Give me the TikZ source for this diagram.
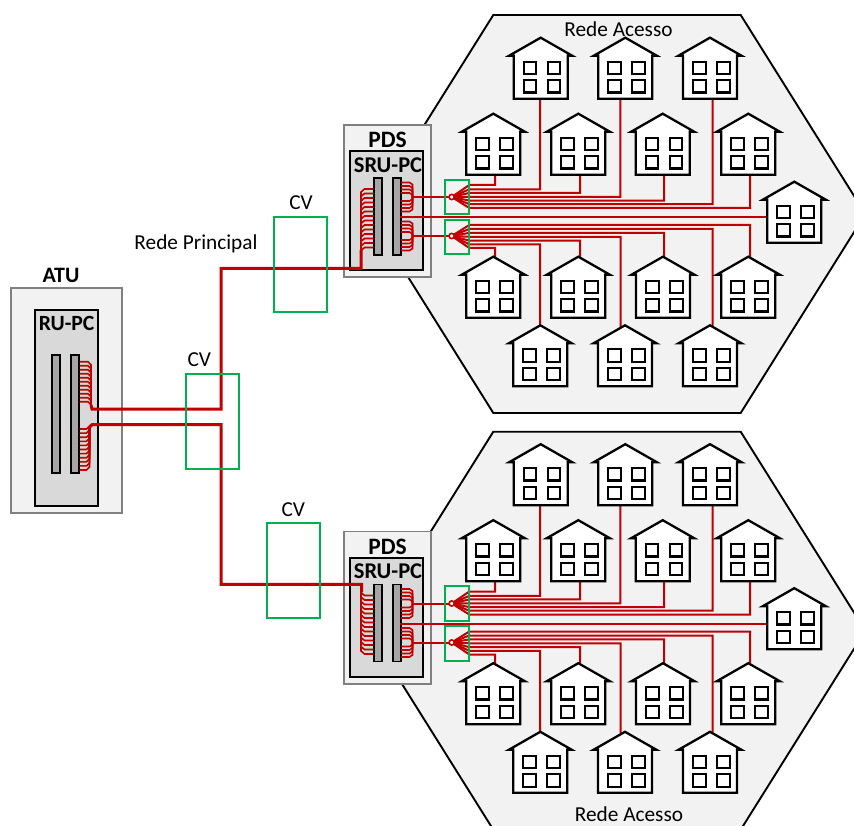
\documentclass[tikz,border=0pt]{standalone}
\usepackage{fontspec}
\setmainfont{Carlito}
\usetikzlibrary{calc}
\definecolor{wirered}{HTML}{C00000}
\definecolor{boxgreen}{HTML}{00B050}
\definecolor{areagray}{HTML}{F2F2F2}
\definecolor{cardgray}{HTML}{D9D9D9}
\definecolor{slotgray}{HTML}{A6A6A6}
\tikzset{
  area/.style={draw=black,fill=areagray,line width=1.9pt,line join=miter},
  panel/.style={draw=black!50,fill=areagray,line width=1.8pt,inner sep=0pt},
  card/.style={draw=black,fill=cardgray,line width=2pt,inner sep=0pt},
  slot/.style={draw=black,fill=slotgray,line width=1.9pt,inner sep=0pt,minimum width=8pt},
  cvbox/.style={draw=boxgreen,line width=1.9pt,inner sep=0pt},
  wire/.style={draw=wirered,line width=2pt},
  thin wire/.style={draw=wirered,line width=1.6pt},
  main wire/.style={draw=wirered,line width=3pt},
  lbl/.style={inner sep=0pt,font=\fontsize{21.3}{24}\selectfont},
  blbl/.style={inner sep=0pt,font=\fontsize{23.5}{24}\selectfont\bfseries},
  pics/house/.style={code={
    \draw[fill=white,line width=2.3pt,line join=miter] (0,0) -- (31.5,18) -- (27,18) -- (27,61) -- (-27,61) -- (-27,18) -- (-31.5,18) -- cycle;
    \foreach \wx in {-17,7} \foreach \wy in {24,42.5}
      \draw[fill=white,line width=2.2pt] (\wx,\wy) rectangle (\wx+12.6,\wy+12.3);
  }}
}

\begin{document}
\begin{tikzpicture}[x=1pt,y=-1pt]
  \useasboundingbox (0,0) rectangle (854,826);
  \clip (0,0) rectangle (854,826);
  \draw[area] (493.3,15) -- (740.7,15) -- (865.4,214) -- (740.7,413) -- (493.3,413) -- (368.6,214) -- cycle;
  \draw[area] (493.3,431.7) -- (740.7,431.7) -- (865.4,630.7) -- (740.7,829.7) -- (493.3,829.7) -- (368.6,630.7) -- cycle;
  \node[lbl] (accessa) at (618.5,29) {Rede Acesso};
  \node[lbl] (accessb) at (629,814) {Rede Acesso};

  \node[panel,minimum width=111.3pt,minimum height=225pt] (atu) at (66.7,400.8) {};
  \node[blbl,font=\fontsize{22}{24}\selectfont\bfseries] (atutxt) at (61,275) {ATU};
  \node[card,minimum width=62.7pt,minimum height=196pt] (ru) at (66.4,408) {};
  \node[blbl,font=\fontsize{21.7}{24}\selectfont\bfseries] (rutxt) at (66.7,323) {RU-PC};
  \node[slot,minimum height=118.3pt] (rua) at (56.2,414.2) {};
  \node[slot,minimum height=118.3pt] (rub) at (75.2,414.2) {};

  \foreach \p/\dy in {a/0,b/406.5} {
    \begin{scope}[shift={(0,\dy)}]
      \node[panel,minimum width=86.7pt,minimum height=152.3pt] (pds\p) at (387.7,201.2) {};
      \node[blbl] (pdstxt\p) at (387.5,140) {PDS};
      \node[card,minimum width=73.3pt,minimum height=119pt] (sru\p) at (386.7,210.5) {};
      \node[blbl,font=\fontsize{22.5}{24}\selectfont\bfseries] (srutxt\p) at (388,165) {SRU-PC};
      \node[slot,minimum height=77pt] (srua\p) at (378.3,216.5) {};
      \node[slot,minimum height=77pt] (srub\p) at (397.2,216.5) {};
      \coordinate (fana\p) at (451.7,197);
      \coordinate (fanb\p) at (451.7,236);
      \coordinate (tapa\p) at (400,217.3);
      \coordinate (tapb\p) at (767.3,217.3);

      \foreach \o in {-14.5,-11,-7.5,-4} {
        \draw[thin wire] (401,197+\o) -- (409.5,197+\o) -- (412.5,197+\o+2) -- (412.5,197);
        \draw[thin wire] (401,197-\o) -- (409.5,197-\o) -- (412.5,197-\o-2) -- (412.5,197);
        \draw[thin wire] (401,236+\o) -- (409.5,236+\o) -- (412.5,236+\o+2) -- (412.5,236);
        \draw[thin wire] (401,236-\o) -- (409.5,236-\o) -- (412.5,236-\o-2) -- (412.5,236);
      }
      \draw[wire] (412.5,197) -- (fana\p);
      \draw[wire] (412.5,236) -- (fanb\p);
      \draw[wire] (tapa\p) -- (tapb\p);
      \foreach \yy/\xx/\ey in {185/495/175,189.3/540/99,192.9/580/175,196.8/620.3/99,200.6/664/175,204.2/712.7/99,208/750/175} {
        \coordinate (dropa) at (\xx,\ey);
        \draw[wire] (fana\p) -- (469.3,\yy) -| (dropa);
      }
      \foreach \yy/\xx/\ey in {225/750/259,229/712.7/327,232.9/664/259,236.8/620.5/327,240.7/580/259,244.3/540/327,248/495/259} {
        \coordinate (dropb) at (\xx,\ey);
        \draw[wire] (fanb\p) -- (469.3,\yy) -| (dropb);
      }

      \foreach \hx/\hy in {540.7/37.7,625.3/37.7,710/37.7,493.3/113.7,578.3/113.7,662.7/113.7,748.3/113.7,794.3/181.7,493.3/256.7,578.3/256.7,663/256.7,748.3/256.7,540.3/325.3,625/325.3,710/325.3}
        \pic at (\hx,\hy) {house};

      \node[cvbox,minimum width=24.3pt,minimum height=34.3pt] (spa\p) at (457.2,196.9) {};
      \node[cvbox,minimum width=24.3pt,minimum height=34.3pt] (spb\p) at (457.2,236.9) {};
      \fill[white,draw=wirered,line width=1.6pt] (fana\p) circle (2.6pt);
      \fill[white,draw=wirered,line width=1.6pt] (fanb\p) circle (2.6pt);
    \end{scope}
  }

  \foreach \r in {0,...,13}
    \draw[thin wire] (373.7,189+4.5*\r) -- (364.5,189+4.5*\r) -- (361,192+4.5*\r) -- (361,252);
  \foreach \r in {0,...,13}
    \draw[thin wire] (373.7,595.5+4.5*\r) -- (364.5,595.5+4.5*\r) -- (361,592.5+4.5*\r) -- (361,586);
  \foreach \r in {0,...,10} {
    \draw[thin wire] (79.5,361.7+4*\r) -- (88,361.7+4*\r) -- (91,364.7+4*\r) -- (91,405);
    \draw[thin wire] (79.5,470-4.1*\r) -- (86.5,470-4.1*\r) -- (89.5,467-4.1*\r) -- (89.5,428);
  }

  \coordinate (upa) at (92,409);
  \coordinate (upb) at (221,268.3);
  \coordinate (upc) at (361,250);
  \coordinate (loa) at (92,424.7);
  \coordinate (lob) at (221,584.3);
  \coordinate (loc) at (361.5,592);
  \draw[main wire] (91,405) -- (upa) -| (upb) -| (upc);
  \draw[main wire] (89,428) -- (loa) -| (lob) -| (loc);

  \node[cvbox,minimum width=53pt,minimum height=95pt] (cva) at (300.8,264.2) {};
  \node[lbl] (cvatxt) at (301,202.5) {CV};
  \node[cvbox,minimum width=53pt,minimum height=95pt] (cvb) at (212.2,421.8) {};
  \node[lbl] (cvbtxt) at (199.3,359.5) {CV};
  \node[cvbox,minimum width=53pt,minimum height=95pt] (cvc) at (293.2,570.5) {};
  \node[lbl] (cvctxt) at (293.3,510) {CV};
  \node[lbl] (maintxt) at (196,244) {Rede Principal};
\end{tikzpicture}
\end{document}
